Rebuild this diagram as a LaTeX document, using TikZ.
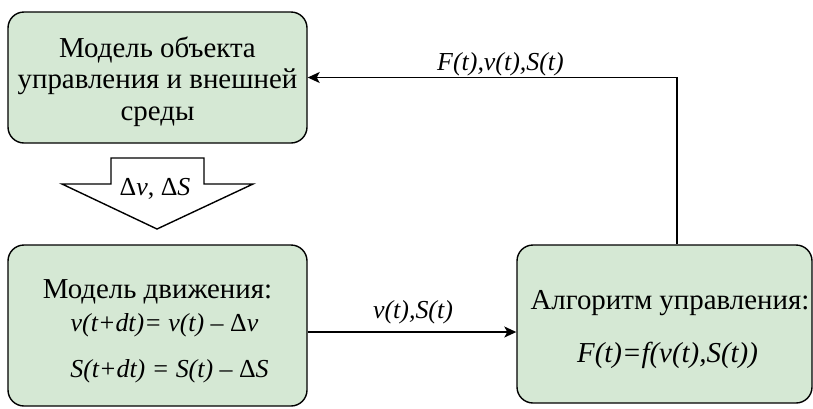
\documentclass[tikz,border=0pt]{standalone}
\usepackage{fontspec}
\setmainfont{Liberation Serif}
\usetikzlibrary{arrows.meta}
\definecolor{boxfill}{HTML}{D5E8D4}
\tikzset{
  block/.style={draw=black, fill=boxfill, line width=1.4bp, rounded corners=16bp,
    inner sep=0pt},
  txt/.style={font=\fontsize{29}{31.5}\selectfont, inner sep=0pt, anchor=base},
  itxt/.style={font=\fontsize{29}{31}\selectfont\itshape, inner sep=0pt, anchor=base},
  eqtxt/.style={font=\fontsize{26}{28}\selectfont\itshape, inner sep=0pt, anchor=base},
  link/.style={draw=black, line width=1.4bp, -{Stealth[length=12bp,width=11bp,inset=3bp]}},
  lbl/.style={font=\fontsize{26}{28}\selectfont\itshape, inner sep=0pt, anchor=base},
}
\newcommand{\Dl}{{\upshape Δ}}
\begin{document}
\begin{tikzpicture}[x=1bp,y=-1bp]
\useasboundingbox (0,0) rectangle (813,408);

% model of the object and environment
\node[block, minimum width=299bp, minimum height=131bp] (env) at (157.5,77.5) {};
\node[txt] (e1) at (157.5,57) {Модель объекта};
\node[txt] (e2) at (157.5,88.5) {управления и внешней};
\node[txt] (e3) at (157.5,120) {среды};

% motion model
\node[block, minimum width=299bp, minimum height=161bp] (motion) at (157.5,325.5) {};
\node[txt] (mtitle) at (157.5,298) {Модель движения:};
\node[eqtxt] (mv) at (164.5,331) {v(t+dt)= v(t) – \Dl v};
\node[eqtxt] (ms) at (169.5,377) {S(t+dt) = S(t) – \Dl S};

% control algorithm
\node[block, minimum width=295bp, minimum height=158bp] (ctrl) at (664.5,324) {};
\node[txt] (ctitle) at (670,309) {Алгоритм управления:};
\node[itxt] (cf) at (667.5,362) {F(t)=f(v(t),S(t))};

% block arrow carrying the increments
\draw[line width=1.4bp, fill=white]
  (111,158) -- (204,158) -- (204,184) -- (253,184) -- (157,229)
  -- (62,184) -- (111,184) -- cycle;
\node[lbl, font=\fontsize{26}{28}\selectfont] (dlt) at (155,195) {Δ\textit{v}, Δ\textit{S}};

% connectors
\coordinate (ya) at (0,332);
\coordinate (xb) at (677,0);
\draw[link] (motion.east |- ya) -- (ctrl.west |- ya);
\node[lbl] (l1) at (413,318) {v(t),S(t)};
\draw[link] (ctrl.north -| xb) |- (env.east);
\node[lbl] (l2) at (500.5,70) {F(t),v(t),S(t)};
\end{tikzpicture}
\end{document}
